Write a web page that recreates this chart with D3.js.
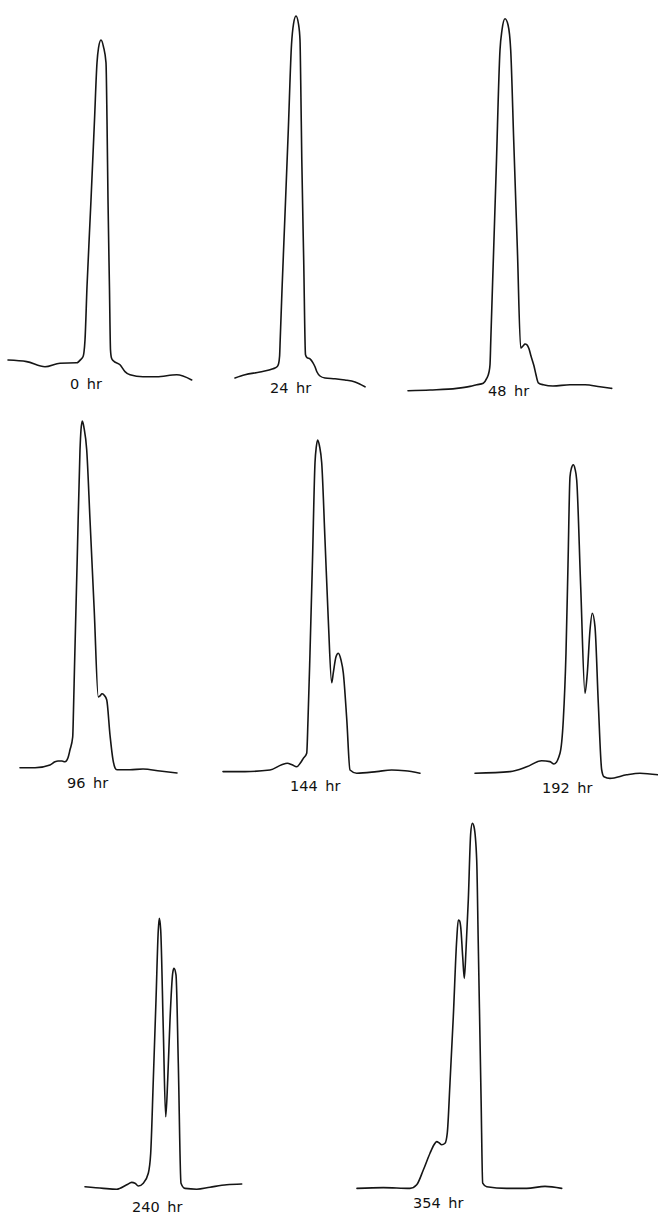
<!DOCTYPE html>
<html><head><meta charset="utf-8">
<script src="https://cdn.jsdelivr.net/npm/d3@7"></script>
<style>
body{margin:0;background:#fff}
svg{display:block}
.trace{fill:none;stroke:#151515;stroke-width:1.6;stroke-linejoin:round;stroke-linecap:round}
.lbl{font-family:"DejaVu Sans",sans-serif;font-size:14.5px;fill:#111;word-spacing:3px}
</style>
</head><body>
<svg id="chart" width="658" height="1218"></svg>
<script>
// Time points of the gel scans
const timeLabels = ["0 hr","24 hr","48 hr","96 hr","144 hr","192 hr","240 hr","354 hr"];

// Densitometer traces: [migration distance (arb. units), relative absorbance (%)]
const trace0 = [[0,5.5],[18.7,5.1],[37,3.8],[52,4.7],[68.7,4.8],[73.7,5.9],[75,6.3],[76,7.5],[77,10.5],[79,23.8],[83,45.5],[86.5,65.5],[89,79.8],[90.5,83.5],[93,85.5],[95.5,83.8],[98,79.8],[99,65.5],[100,45.5],[101.5,23],[102.5,8],[103.5,6],[105.3,5.3],[112,4.3],[117,2.6],[122,1.8],[135,1.3],[148.7,1.3],[168.7,1.8],[183.7,0.5]];
const trace24 = [[0,2.5],[10,3.3],[25,4],[38,4.8],[42,5.3],[43.5,6],[44.6,8],[45.2,12],[47,24.5],[49.9,42.8],[53.3,64.5],[56.5,85.8],[58.5,91],[61,93],[63.5,91],[65,87],[65.7,77],[66.8,57],[68.7,32],[70.5,8.3],[72,7.6],[75,7.3],[78,6.3],[80,5.3],[82,4],[85,3],[90,2.5],[100,2.3],[110,2],[120,1.5],[130,0.3]];
const trace48 = [[0,0.3],[22,0.5],[48.7,0.9],[62,1.4],[68.7,1.8],[75.3,2.2],[78.7,3.4],[81,5],[82,6.8],[82.8,13],[84.6,27.3],[88.2,55.5],[92,85.5],[94,90.5],[97,93.3],[100,91.8],[102.7,85.5],[105.7,63],[109.4,35.5],[112.7,11],[115,11.5],[117,12],[119,11.8],[121,10.8],[123,9],[126,6.5],[128,4.3],[130.3,2.3],[135.3,1.8],[145,1.5],[162,1.8],[177,1.8],[192,1.3],[203.7,0.9]];
const trace96 = [[0,1.8],[15,1.8],[30,2.5],[35,3.3],[38,3.5],[42,3.5],[45,3.3],[48,4.3],[50,6.3],[52.7,9.5],[53.5,16.3],[54.5,27],[57.2,53.8],[60,81.3],[61,86.3],[62.3,88.5],[64,86.8],[66.7,81.3],[70,63.8],[74.2,41.3],[78.3,19.5],[80,19.8],[82,20.3],[84,20],[86.7,18.8],[90,10],[93,3.8],[95,1.8],[97,1.3],[110,1.3],[123,1.5],[140,1],[157,0.5]];
const trace144 = [[0,1.1],[22,1.1],[47,1.5],[58.7,2.8],[64.3,3.2],[69,2.8],[73.7,2.3],[77.5,3.3],[80.3,4.4],[83.7,5.7],[85,14],[87,30.8],[89.5,54],[92,78.3],[93.3,82.3],[94.7,84],[96.5,82.5],[98.7,78.3],[102,59],[105.3,39],[108.7,23.3],[110.3,25.8],[113,29.8],[115.3,30.7],[118,29],[120.3,25.8],[123.8,14],[127,1.5],[133.7,0.7],[153.7,1.1],[168.7,1.5],[182,1.3],[197,0.7]];
const trace192 = [[0,1.7],[35,2.1],[51.7,3.3],[66.7,4.8],[75,4.6],[79,4],[85,6.7],[88.3,15],[91,31.8],[93,53.8],[95,75.8],[96.5,78],[98.3,78.8],[100,77.8],[101.7,75],[105.7,48.3],[110,21.7],[112.3,26.7],[115,37.5],[117.3,41.7],[120,38.3],[123.3,19.2],[126.7,2.5],[129,0.8],[135,0.4],[151.7,1.3],[165,1.7],[183,1.3]];
const trace240 = [[0,1.3],[18.3,0.9],[31.7,0.7],[41.7,1.8],[46.7,2.4],[50,2.2],[53.3,1.5],[58.3,2.2],[63.3,4.7],[65.7,9.7],[68.3,28],[71,48],[73.3,65.5],[74.3,68.4],[75.7,65.5],[78.3,40.5],[80.7,18.8],[82.7,28],[85,43],[87.7,54.7],[89,55.9],[91,54.3],[93.3,32.2],[96,2.2],[100,0.9],[111.7,0.7],[125,1.2],[141.7,1.8],[156.7,2]];
const trace354 = [[0,0.9],[26.3,1.1],[53,0.9],[59.7,1.8],[66.3,5.5],[73,9.7],[77,11.8],[79.7,12.6],[82,12.3],[84.7,11.8],[88,12.2],[90.3,14.8],[93,27.3],[96.3,43.8],[99.7,63],[101.3,68],[102.5,67.8],[103.7,66.3],[105.7,58.8],[107.3,53.4],[109,60.5],[111.3,73],[113.7,89.7],[115.3,92.2],[117,91.3],[119.7,83],[121.2,63],[122.6,43.8],[124.1,23],[125.7,2.2],[129.7,1.3],[149.7,0.9],[169.7,0.9],[188,1.4],[204.7,0.9]];

const traces = [trace0, trace24, trace48, trace96, trace144, trace192, trace240, trace354];

// Panel placement on the page (layout only)
const panelLayout = [
  {ox:8,   base:382,  lx:70,  ly:389},
  {ox:235, base:388,  lx:270, ly:393},
  {ox:408, base:392,  lx:488, ly:396},
  {ox:20,  base:775,  lx:67,  ly:788},
  {ox:223, base:776,  lx:290, ly:791},
  {ox:475, base:780,  lx:542, ly:793},
  {ox:85,  base:1192, lx:132, ly:1212},
  {ox:357, base:1192, lx:413, ly:1208}
];

const svg = d3.select("#chart");
svg.append("rect").attr("width",658).attr("height",1218).attr("fill","#fff");

traces.forEach((data, i) => {
  const L = panelLayout[i];
  const x = d3.scaleLinear().domain([0, 100]).range([L.ox, L.ox + 100]);
  const y = d3.scaleLinear().domain([0, 100]).range([L.base, L.base - 400]);
  const line = d3.line().x(d => x(d[0])).y(d => y(d[1])).curve(d3.curveMonotoneX);
  const g = svg.append("g").attr("class", "panel");
  g.append("path").datum(data).attr("class", "trace").attr("d", line);
  g.append("text").attr("class", "lbl").attr("x", L.lx).attr("y", L.ly).text(timeLabels[i]);
});
</script>
</body></html>
